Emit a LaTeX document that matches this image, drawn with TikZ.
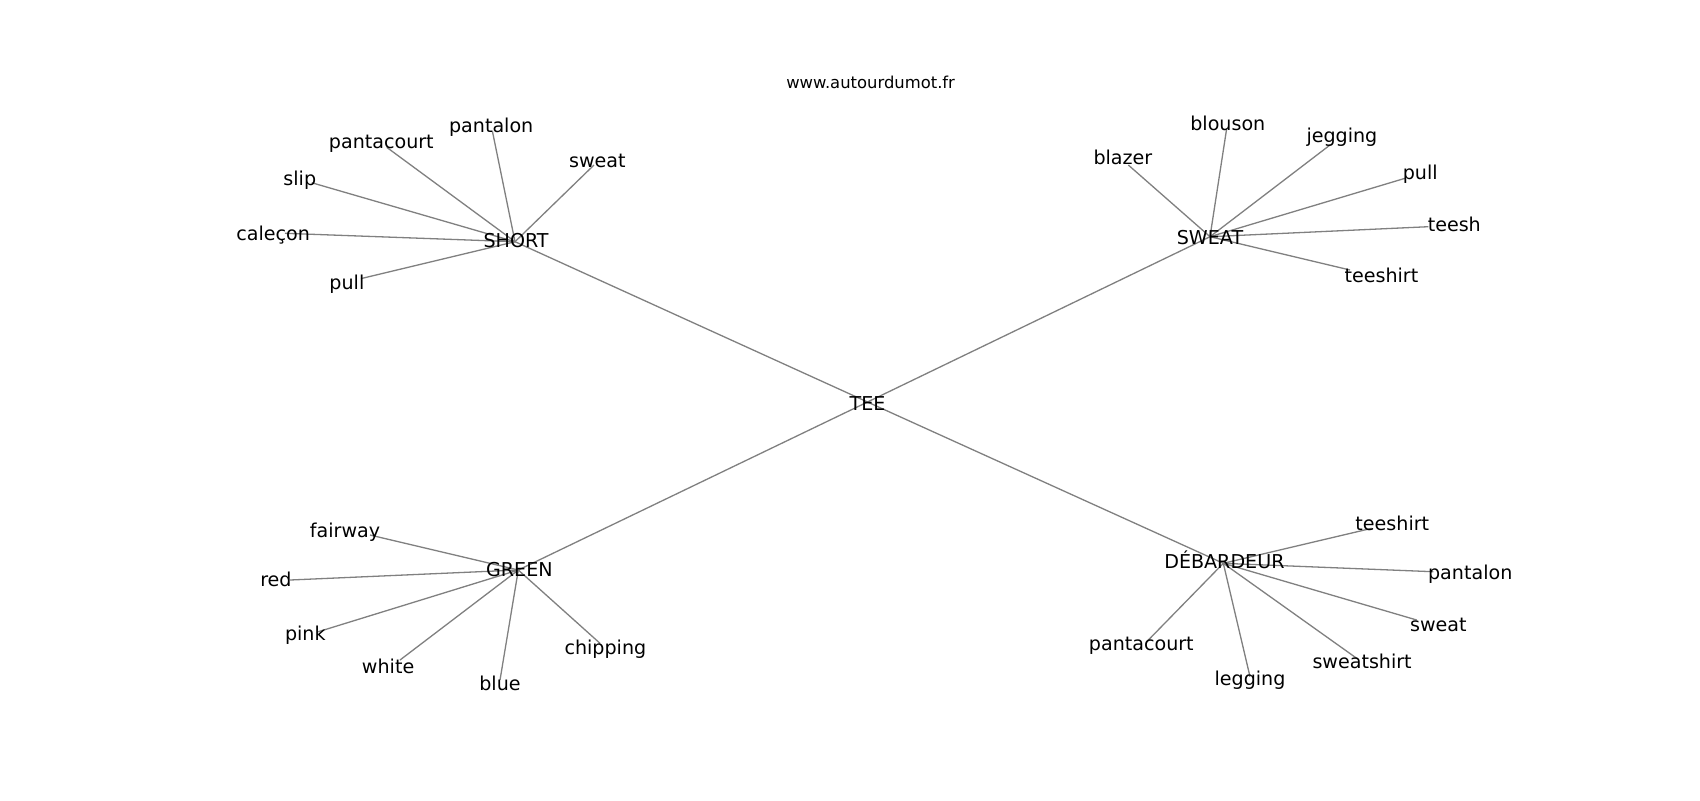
\documentclass[tikz,border=0pt]{standalone}
\usepackage{fontspec}
\setmainfont{DejaVu Sans}
\begin{document}
\begin{tikzpicture}[x=0.5pt,y=-0.5pt,
  lbl/.style={inner sep=0pt, font=\fontsize{9.55}{11}\selectfont},
  ttl/.style={inner sep=0pt, font=\fontsize{8.2}{10}\selectfont},
  edge/.style={draw=gray, line width=0.65pt}]
\useasboundingbox[fill=white] (0,0) rectangle (1700,800);
\node[ttl] (title) at (870.6,82.4) {www.autourdumot.fr};
% hubs
\coordinate (cTEE) at (867.5,402);
\coordinate (cSHORT) at (515,241.7);
\coordinate (cSWEAT) at (1210,236.7);
\coordinate (cGREEN) at (518.3,570);
\coordinate (cDEB) at (1223.3,563.3);
% SHORT leaves
\coordinate (s1) at (386.7,147.3);
\coordinate (s2) at (492.3,130.7);
\coordinate (s3) at (594,165);
\coordinate (s4) at (311.7,182.7);
\coordinate (s5) at (285,233.3);
\coordinate (s6) at (361,278.6);
% SWEAT leaves
\coordinate (w1) at (1128.3,165);
\coordinate (w2) at (1226.7,128.3);
\coordinate (w3) at (1330,145);
\coordinate (w4) at (1405,178.3);
\coordinate (w5) at (1428.3,226.7);
\coordinate (w6) at (1350,270);
% GREEN leaves
\coordinate (g1) at (370,535);
\coordinate (g2) at (290,580);
\coordinate (g3) at (318.3,631.7);
\coordinate (g4) at (400,660);
\coordinate (g5) at (500,680);
\coordinate (g6) at (600,643.3);
% DEBARDEUR leaves
\coordinate (d1) at (1371.7,528.3);
\coordinate (d2) at (1433.3,571.7);
\coordinate (d3) at (1416.7,620);
\coordinate (d4) at (1356.7,658.3);
\coordinate (d5) at (1250,676.7);
\coordinate (d6) at (1146.7,641.7);
% edges
\foreach \h in {cSHORT,cSWEAT,cGREEN,cDEB} \draw[edge] (cTEE) -- (\h);
\foreach \l in {s1,s2,s3,s4,s5,s6} \draw[edge] (cSHORT) -- (\l);
\foreach \l in {w1,w2,w3,w4,w5,w6} \draw[edge] (cSWEAT) -- (\l);
\foreach \l in {g1,g2,g3,g4,g5,g6} \draw[edge] (cGREEN) -- (\l);
\foreach \l in {d1,d2,d3,d4,d5,d6} \draw[edge] (cDEB) -- (\l);
% labels
\node[lbl] (TEE) at (867.5,403.3) {TEE};
\node[lbl] (SHORT) at (516.1,240.8) {SHORT};
\node[lbl] (SWEAT) at (1210,238) {SWEAT};
\node[lbl] (GREEN) at (519.4,569.1) {GREEN};
\node[lbl] (DEB) at (1224.4,560.2) {DÉBARDEUR};
\node[lbl] (ls1) at (381.3,144.2) {pantacourt};
\node[lbl] (ls2) at (491.2,127.6) {pantalon};
\node[lbl] (ls3) at (597.3,160.8) {sweat};
\node[lbl] (ls4) at (299.8,180.7) {slip};
\node[lbl] (ls5) at (273.1,234.6) {caleçon};
\node[lbl] (ls6) at (346.9,284.2) {pull};
\node[lbl] (lw1) at (1122.9,157.6) {blazer};
\node[lbl] (lw2) at (1227.8,123) {blouson};
\node[lbl] (lw3) at (1341.9,137.6) {jegging};
\node[lbl] (lw4) at (1420.2,174.1) {pull};
\node[lbl] (lw5) at (1454.3,224.7) {teesh};
\node[lbl] (lw6) at (1381.4,275.6) {teeshirt};
\node[lbl] (lg1) at (345.1,531.9) {fairway};
\node[lbl] (lg2) at (275.9,579.1) {red};
\node[lbl] (lg3) at (305.3,635.1) {pink};
\node[lbl] (lg4) at (388.1,666.7) {white};
\node[lbl] (lg5) at (500,683.4) {blue};
\node[lbl] (lg6) at (605.4,648.9) {chipping};
\node[lbl] (ld1) at (1392.3,523) {teeshirt};
\node[lbl] (ld2) at (1470.2,574) {pantalon};
\node[lbl] (ld3) at (1438.4,624.5) {sweat};
\node[lbl] (ld4) at (1362.1,661.7) {sweatshirt};
\node[lbl] (ld5) at (1250,680.1) {legging};
\node[lbl] (ld6) at (1141.3,646.2) {pantacourt};
\end{tikzpicture}
\end{document}
